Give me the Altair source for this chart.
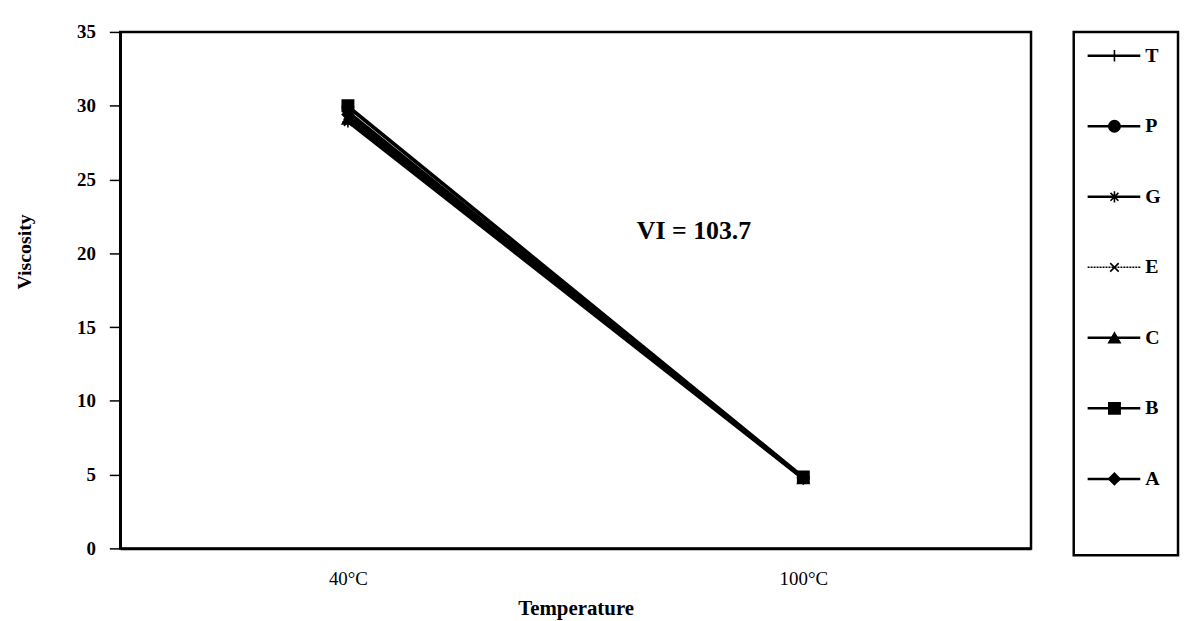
import altair as alt
import pandas as pd

# ---- data ----
series = ["T", "P", "G", "E", "C", "B", "A"]
temp_labels = ["40°C", "100°C"]
temp_pos = [1, 3]
visc_40 = [29.6, 29.9, 28.9, 29.3, 29.1, 30.0, 29.4]
visc_100 = [4.75, 4.80, 4.70, 4.72, 4.74, 4.85, 4.78]
annotation = "VI = 103.7"
annot_x = 2.52
annot_y = 21.5

# marker shapes per series (styling)
shape_range = [
    "M-1,0L1,0M0,-1L0,1",                                  # T plus
    "circle",                                              # P
    "M-1,0L1,0M0,-1L0,1M-0.7,-0.7L0.7,0.7M-0.7,0.7L0.7,-0.7",  # G asterisk
    "M-0.75,-0.75L0.75,0.75M-0.75,0.75L0.75,-0.75",        # E x
    "triangle-up",                                         # C
    "square",                                              # B
    "diamond",                                             # A
]

rows = []
for s, a, b in zip(series, visc_40, visc_100):
    rows.append({"series": s, "temp": temp_pos[0], "visc": a})
    rows.append({"series": s, "temp": temp_pos[1], "visc": b})
df = pd.DataFrame(rows)

FONT = "Liberation Serif"

x_enc = alt.X(
    "temp:Q",
    scale=alt.Scale(domain=[0, 4], nice=False, zero=False),
    axis=alt.Axis(
        values=temp_pos,
        labelExpr="datum.value == 1 ? '40°C' : '100°C'",
        title="Temperature",
        ticks=False,
        grid=False,
        domainColor="black",
        domainWidth=2.5,
        labelFont=FONT,
        labelFontSize=19,
        labelColor="black",
        labelPadding=21,
        titleFont=FONT,
        titleFontSize=21,
        titleFontWeight="bold",
        titleColor="black",
        titlePadding=10,
    ),
)
y_enc = alt.Y(
    "visc:Q",
    scale=alt.Scale(domain=[0, 35], nice=False),
    axis=alt.Axis(
        values=[0, 5, 10, 15, 20, 25, 30, 35],
        title="Viscosity",
        grid=False,
        domainColor="black",
        domainWidth=2.5,
        tickColor="black",
        tickWidth=1.5,
        tickSize=11,
        labelFont=FONT,
        labelFontSize=19,
        labelFontWeight="bold",
        labelColor="black",
        labelPadding=14,
        titleFont=FONT,
        titleFontSize=20,
        titleFontWeight="bold",
        titleColor="black",
        titleX=-96,
        titleY=221,
        titleBaseline="middle",
    ),
)

shape_scale = alt.Scale(domain=series, range=shape_range)

lines = alt.Chart(df).mark_line(color="black", strokeWidth=2.8).encode(
    x=x_enc, y=y_enc, detail="series:N"
)
points = alt.Chart(df).mark_point(
    filled=True, size=130, color="black", stroke="black", strokeWidth=1.6, opacity=1
).encode(
    x="temp:Q",
    y="visc:Q",
    shape=alt.Shape("series:N", scale=shape_scale, legend=None),
)
label = alt.Chart(pd.DataFrame({"x": [annot_x], "y": [annot_y], "t": [annotation]})).mark_text(
    font=FONT, fontSize=26, fontWeight="bold", color="black", align="center", baseline="middle"
).encode(x="x:Q", y="y:Q", text="t:N")

main = alt.layer(lines, points, label).properties(width=917, height=520)

# ---- legend panel ----
leg_df = pd.DataFrame({"series": series})
leg_y = alt.Y(
    "series:N",
    scale=alt.Scale(type="point", domain=series, range=[24, 450], padding=0),
    axis=None,
)
leg_rule = alt.Chart(leg_df).mark_rule(color="black").encode(
    x=alt.value(14),
    x2=alt.value(67),
    y=leg_y,
    strokeWidth=alt.condition(alt.datum.series == "E", alt.value(1.5), alt.value(2.5)),
    strokeDash=alt.condition(alt.datum.series == "E", alt.value([2, 1]), alt.value([1, 0])),
)
leg_pts = alt.Chart(leg_df).mark_point(
    filled=True, size=130, color="black", stroke="black", strokeWidth=1.6, opacity=1
).encode(
    x=alt.value(41),
    y=leg_y,
    shape=alt.Shape("series:N", scale=shape_scale, legend=None),
)
leg_txt = alt.Chart(leg_df).mark_text(
    font=FONT, fontSize=20, fontWeight="bold", color="black", align="left", baseline="middle"
).encode(x=alt.value(72), y=leg_y, text="series:N")

legend = alt.layer(leg_rule, leg_pts, leg_txt).properties(width=105, height=527)

chart = (
    alt.hconcat(main, legend, spacing=39)
    .properties(padding={"left": 5, "top": 11, "right": 0, "bottom": 0}, background="white")
    .configure_view(stroke="black", strokeWidth=2.5)
)

chart.save("out.html", embed_options={"renderer": "svg", "actions": False})
